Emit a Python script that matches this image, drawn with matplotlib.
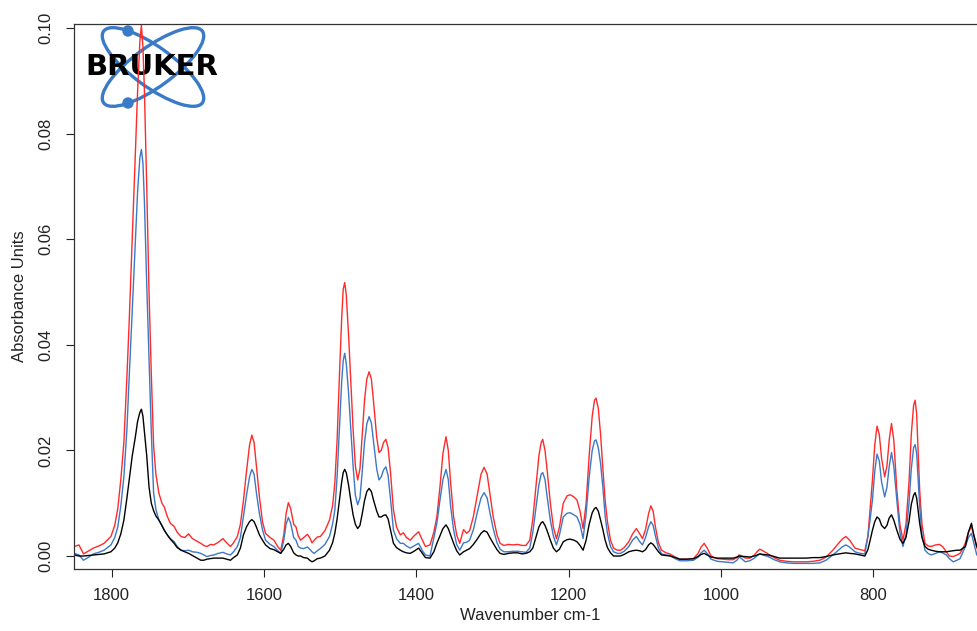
import matplotlib
matplotlib.use("Agg")
import matplotlib.pyplot as plt
from matplotlib.patches import Ellipse, Circle

plt.rcParams['font.family'] = ['Liberation Sans', 'DejaVu Sans']

# wavenumber (cm-1) and absorbance of the three spectra
wavenumber = [
    1849, 1843, 1837, 1830, 1824, 1817, 1810, 1801, 1796, 1792, 1788, 1784, 1780, 1777,
    1773, 1769, 1766, 1763, 1761, 1759, 1757, 1754, 1751, 1748, 1745, 1742, 1738, 1734,
    1731, 1727, 1723, 1718, 1714, 1709, 1704, 1699, 1694, 1688, 1683, 1679, 1675, 1670,
    1666, 1660, 1654, 1649, 1644, 1640, 1635, 1631, 1627, 1623, 1619, 1616, 1613, 1610,
    1606, 1602, 1598, 1592, 1587, 1582, 1578, 1574, 1571, 1568, 1565, 1561, 1558, 1555,
    1552, 1548, 1543, 1540, 1537, 1534, 1530, 1526, 1520, 1514, 1510, 1507, 1504, 1501,
    1498, 1496, 1494, 1492, 1489, 1486, 1483, 1480, 1477, 1474, 1471, 1468, 1465, 1462,
    1459, 1456, 1452, 1449, 1446, 1443, 1440, 1437, 1434, 1430, 1426, 1421, 1417, 1413,
    1408, 1403, 1397, 1392, 1388, 1382, 1377, 1373, 1369, 1365, 1361, 1358, 1355, 1351,
    1347, 1343, 1338, 1334, 1330, 1325, 1320, 1315, 1311, 1307, 1303, 1299, 1294, 1290,
    1285, 1279, 1273, 1267, 1261, 1256, 1251, 1247, 1243, 1239, 1236, 1234, 1231, 1228,
    1224, 1220, 1216, 1212, 1207, 1202, 1198, 1193, 1189, 1185, 1181, 1177, 1173, 1169,
    1166, 1164, 1161, 1158, 1155, 1152, 1149, 1145, 1141, 1136, 1132, 1127, 1121, 1116,
    1111, 1107, 1103, 1099, 1095, 1092, 1089, 1086, 1082, 1078, 1072, 1067, 1060, 1054,
    1045, 1036, 1030, 1026, 1022, 1018, 1013, 1005, 997, 990, 984, 979, 976, 972,
    968, 962, 956, 952, 949, 945, 938, 930, 923, 914, 905, 896, 888, 879,
    870, 862, 853, 845, 840, 836, 831, 824, 817, 811, 807, 804, 801, 798,
    795, 792, 789, 785, 782, 779, 776, 773, 769, 765, 761, 757, 753, 750,
    747, 745, 743, 739, 736, 732, 728, 724, 718, 713, 709, 704, 700, 695,
    690, 686, 682, 679, 675, 671, 668, 664, 660, 652,
]

red = [
    0.0018, 0.0021, 0.0004, 0.0010, 0.0015, 0.0019, 0.0024, 0.0037, 0.0058, 0.0090, 0.0145, 0.0215, 0.0340, 0.0445,
    0.0600, 0.0760, 0.0880, 0.0975, 0.1005, 0.0965, 0.0880, 0.0700, 0.0500, 0.0345, 0.0210, 0.0155, 0.0119, 0.0100,
    0.0093, 0.0075, 0.0062, 0.0056, 0.0045, 0.0037, 0.0035, 0.0042, 0.0033, 0.0028, 0.0024, 0.0020, 0.0018, 0.0022,
    0.0021, 0.0026, 0.0033, 0.0025, 0.0018, 0.0025, 0.0037, 0.0060, 0.0105, 0.0160, 0.0210, 0.0229, 0.0215, 0.0170,
    0.0112, 0.0065, 0.0043, 0.0035, 0.0030, 0.0018, 0.0011, 0.0040, 0.0080, 0.0101, 0.0090, 0.0060, 0.0055, 0.0038,
    0.0030, 0.0035, 0.0041, 0.0035, 0.0025, 0.0030, 0.0036, 0.0037, 0.0048, 0.0068, 0.0095, 0.0138, 0.0220, 0.0340,
    0.0450, 0.0505, 0.0518, 0.0495, 0.0420, 0.0330, 0.0240, 0.0170, 0.0144, 0.0165, 0.0230, 0.0295, 0.0335, 0.0349,
    0.0335, 0.0290, 0.0225, 0.0196, 0.0200, 0.0215, 0.0221, 0.0205, 0.0160, 0.0087, 0.0055, 0.0040, 0.0044, 0.0035,
    0.0030, 0.0038, 0.0046, 0.0030, 0.0018, 0.0021, 0.0045, 0.0074, 0.0130, 0.0195, 0.0226, 0.0200, 0.0140, 0.0074,
    0.0040, 0.0024, 0.0050, 0.0043, 0.0048, 0.0075, 0.0115, 0.0155, 0.0168, 0.0155, 0.0115, 0.0074, 0.0040, 0.0024,
    0.0020, 0.0022, 0.0021, 0.0022, 0.0020, 0.0020, 0.0030, 0.0070, 0.0130, 0.0190, 0.0215, 0.0221, 0.0200, 0.0160,
    0.0100, 0.0055, 0.0033, 0.0055, 0.0100, 0.0114, 0.0116, 0.0112, 0.0106, 0.0085, 0.0052, 0.0100, 0.0190, 0.0265,
    0.0295, 0.0299, 0.0280, 0.0230, 0.0165, 0.0105, 0.0065, 0.0030, 0.0015, 0.0011, 0.0011, 0.0016, 0.0027, 0.0042,
    0.0052, 0.0043, 0.0033, 0.0050, 0.0080, 0.0095, 0.0085, 0.0055, 0.0025, 0.0011, 0.0006, 0.0004, -0.0002, -0.0006,
    -0.0006, -0.0005, 0.0005, 0.0017, 0.0024, 0.0015, 0.0000, -0.0005, -0.0006, -0.0007, -0.0007, -0.0003, 0.0002, 0.0000,
    -0.0004, -0.0004, 0.0002, 0.0009, 0.0013, 0.0010, 0.0004, -0.0003, -0.0008, -0.0010, -0.0011, -0.0011, -0.0011, -0.0010,
    -0.0008, -0.0002, 0.0011, 0.0025, 0.0033, 0.0037, 0.0030, 0.0015, 0.0012, 0.0010, 0.0037, 0.0090, 0.0144, 0.0210,
    0.0246, 0.0230, 0.0185, 0.0150, 0.0170, 0.0220, 0.0251, 0.0220, 0.0125, 0.0060, 0.0030, 0.0060, 0.0140, 0.0230,
    0.0285, 0.0295, 0.0270, 0.0125, 0.0060, 0.0024, 0.0019, 0.0018, 0.0021, 0.0022, 0.0018, 0.0008, 0.0000, -0.0001,
    0.0002, 0.0005, 0.0015, 0.0025, 0.0045, 0.0056, 0.0040, 0.0015, 0.0010, 0.0010,
]

blue = [
    0.0005, 0.0002, -0.0008, -0.0002, 0.0004, 0.0007, 0.0011, 0.0021, 0.0035, 0.0055, 0.0095, 0.0150, 0.0240, 0.0340,
    0.0465, 0.0595, 0.0690, 0.0755, 0.0770, 0.0745, 0.0670, 0.0515, 0.0375, 0.0235, 0.0120, 0.0088, 0.0068, 0.0058,
    0.0049, 0.0040, 0.0033, 0.0027, 0.0018, 0.0011, 0.0010, 0.0011, 0.0008, 0.0007, 0.0005, 0.0002, -0.0001, 0.0001,
    0.0002, 0.0005, 0.0007, 0.0004, 0.0002, 0.0008, 0.0018, 0.0035, 0.0075, 0.0115, 0.0150, 0.0164, 0.0155, 0.0120,
    0.0080, 0.0050, 0.0030, 0.0022, 0.0018, 0.0010, 0.0005, 0.0030, 0.0060, 0.0073, 0.0062, 0.0035, 0.0030, 0.0018,
    0.0015, 0.0014, 0.0017, 0.0013, 0.0008, 0.0005, 0.0010, 0.0014, 0.0022, 0.0037, 0.0060, 0.0087, 0.0150, 0.0240,
    0.0330, 0.0370, 0.0384, 0.0365, 0.0310, 0.0240, 0.0170, 0.0115, 0.0097, 0.0110, 0.0160, 0.0215, 0.0250, 0.0264,
    0.0252, 0.0215, 0.0165, 0.0144, 0.0150, 0.0163, 0.0169, 0.0152, 0.0110, 0.0049, 0.0033, 0.0024, 0.0024, 0.0019,
    0.0015, 0.0019, 0.0024, 0.0010, 0.0002, 0.0000, 0.0035, 0.0062, 0.0105, 0.0145, 0.0164, 0.0145, 0.0095, 0.0049,
    0.0022, 0.0011, 0.0025, 0.0026, 0.0030, 0.0050, 0.0082, 0.0110, 0.0120, 0.0110, 0.0080, 0.0052, 0.0025, 0.0013,
    0.0008, 0.0008, 0.0009, 0.0009, 0.0008, 0.0007, 0.0015, 0.0045, 0.0090, 0.0135, 0.0155, 0.0158, 0.0145, 0.0110,
    0.0068, 0.0038, 0.0021, 0.0040, 0.0074, 0.0081, 0.0082, 0.0078, 0.0074, 0.0060, 0.0033, 0.0080, 0.0150, 0.0200,
    0.0218, 0.0220, 0.0205, 0.0175, 0.0130, 0.0075, 0.0043, 0.0018, 0.0008, 0.0005, 0.0005, 0.0009, 0.0018, 0.0030,
    0.0037, 0.0028, 0.0021, 0.0035, 0.0055, 0.0065, 0.0058, 0.0038, 0.0015, 0.0004, 0.0002, 0.0001, -0.0005, -0.0009,
    -0.0009, -0.0008, -0.0002, 0.0006, 0.0011, 0.0005, -0.0006, -0.0010, -0.0011, -0.0012, -0.0013, -0.0008, -0.0002, -0.0006,
    -0.0011, -0.0009, -0.0004, 0.0001, 0.0004, 0.0002, -0.0001, -0.0007, -0.0011, -0.0013, -0.0014, -0.0014, -0.0014, -0.0014,
    -0.0013, -0.0008, 0.0002, 0.0012, 0.0018, 0.0021, 0.0017, 0.0008, 0.0005, 0.0004, 0.0037, 0.0070, 0.0106, 0.0160,
    0.0193, 0.0180, 0.0140, 0.0112, 0.0130, 0.0170, 0.0196, 0.0170, 0.0106, 0.0045, 0.0018, 0.0040, 0.0100, 0.0165,
    0.0205, 0.0211, 0.0195, 0.0095, 0.0040, 0.0011, 0.0005, 0.0002, 0.0005, 0.0008, 0.0006, 0.0002, -0.0005, -0.0011,
    -0.0008, -0.0005, 0.0008, 0.0018, 0.0035, 0.0043, 0.0025, 0.0002, -0.0002, -0.0002,
]

black = [
    0.0002, 0.0000, 0.0000, 0.0001, 0.0002, 0.0003, 0.0004, 0.0008, 0.0015, 0.0025, 0.0042, 0.0068, 0.0110, 0.0144,
    0.0190, 0.0225, 0.0255, 0.0272, 0.0278, 0.0265, 0.0235, 0.0190, 0.0131, 0.0100, 0.0086, 0.0076, 0.0068, 0.0057,
    0.0049, 0.0040, 0.0032, 0.0024, 0.0016, 0.0011, 0.0008, 0.0005, 0.0001, -0.0004, -0.0008, -0.0008, -0.0006, -0.0005,
    -0.0004, -0.0004, -0.0004, -0.0006, -0.0008, -0.0003, 0.0002, 0.0015, 0.0040, 0.0055, 0.0065, 0.0069, 0.0065, 0.0055,
    0.0040, 0.0030, 0.0021, 0.0014, 0.0012, 0.0008, 0.0005, 0.0013, 0.0021, 0.0024, 0.0018, 0.0006, 0.0002, 0.0000,
    0.0000, -0.0003, -0.0004, -0.0008, -0.0011, -0.0009, -0.0005, -0.0004, 0.0000, 0.0011, 0.0025, 0.0043, 0.0070, 0.0105,
    0.0140, 0.0158, 0.0164, 0.0158, 0.0135, 0.0105, 0.0078, 0.0060, 0.0052, 0.0058, 0.0080, 0.0105, 0.0122, 0.0128,
    0.0122, 0.0105, 0.0085, 0.0074, 0.0074, 0.0077, 0.0078, 0.0070, 0.0050, 0.0024, 0.0016, 0.0011, 0.0008, 0.0006,
    0.0005, 0.0009, 0.0015, 0.0005, -0.0003, -0.0004, 0.0008, 0.0024, 0.0038, 0.0052, 0.0059, 0.0052, 0.0040, 0.0024,
    0.0010, 0.0002, 0.0008, 0.0011, 0.0014, 0.0022, 0.0032, 0.0043, 0.0048, 0.0045, 0.0034, 0.0024, 0.0012, 0.0005,
    0.0003, 0.0005, 0.0006, 0.0006, 0.0004, 0.0005, 0.0008, 0.0015, 0.0035, 0.0055, 0.0063, 0.0065, 0.0058, 0.0047,
    0.0030, 0.0015, 0.0008, 0.0013, 0.0027, 0.0031, 0.0032, 0.0030, 0.0027, 0.0020, 0.0011, 0.0030, 0.0060, 0.0082,
    0.0090, 0.0092, 0.0085, 0.0068, 0.0050, 0.0030, 0.0016, 0.0006, 0.0000, 0.0000, 0.0000, 0.0003, 0.0008, 0.0010,
    0.0011, 0.0010, 0.0008, 0.0012, 0.0021, 0.0025, 0.0022, 0.0016, 0.0008, 0.0002, 0.0001, 0.0000, -0.0003, -0.0006,
    -0.0006, -0.0005, -0.0001, 0.0003, 0.0005, 0.0002, -0.0002, -0.0004, -0.0004, -0.0004, -0.0004, -0.0002, 0.0000, -0.0001,
    -0.0001, -0.0002, 0.0000, 0.0002, 0.0004, 0.0003, 0.0002, -0.0001, -0.0004, -0.0004, -0.0004, -0.0004, -0.0004, -0.0003,
    -0.0003, -0.0001, 0.0002, 0.0004, 0.0005, 0.0006, 0.0005, 0.0004, 0.0002, 0.0000, 0.0012, 0.0030, 0.0049, 0.0065,
    0.0074, 0.0070, 0.0058, 0.0052, 0.0058, 0.0072, 0.0078, 0.0068, 0.0049, 0.0032, 0.0024, 0.0035, 0.0065, 0.0098,
    0.0115, 0.0120, 0.0110, 0.0062, 0.0035, 0.0018, 0.0013, 0.0011, 0.0009, 0.0008, 0.0008, 0.0008, 0.0009, 0.0010,
    0.0011, 0.0011, 0.0015, 0.0018, 0.0045, 0.0062, 0.0040, 0.0018, 0.0010, 0.0008,
]

yticks = [0.00, 0.02, 0.04, 0.06, 0.08, 0.10]
xticks = [1800, 1600, 1400, 1200, 1000, 800]

W, H = 977, 631
fig = plt.figure(figsize=(W / 100, H / 100), dpi=100)
# plot region: left 74px, right 986px (cut off by the image edge), top 24px, bottom 569px
ax = fig.add_axes([74 / W, (H - 569) / H, 912 / W, 545 / H])

ax.plot(wavenumber, red, color='#ff2a2a', lw=1.0)
ax.plot(wavenumber, blue, color='#3b78c6', lw=1.0)
ax.plot(wavenumber, black, color='black', lw=1.0)

ax.set_xlim(1849.5, 651.9)
ax.set_ylim(-0.00246, 0.10076)
ax.set_xticks(xticks)
ax.set_yticks(yticks)
ax.set_yticklabels(['%.2f' % v for v in yticks], rotation=90, va='center')
ax.tick_params(direction='out', length=6, width=0.8, labelsize=12, colors='#222222')
ax.tick_params(axis='x', pad=8)
ax.tick_params(axis='y', pad=9)
for side in ['left', 'top', 'bottom', 'right']:
    ax.spines[side].set_color('#333333')
    ax.spines[side].set_linewidth(0.9)

ax.set_xlabel('Wavenumber cm-1', fontsize=12, color='#222222', labelpad=3)
ax.set_ylabel('Absorbance Units', fontsize=12, color='#222222', labelpad=8)

# Bruker logo in the top-left corner (pixel positions converted to inches)
def px(x, y):
    return (x / 100, (H - y) / 100)

logo_blue = '#3a7bc8'
for ang in (36, -36):
    ax.add_patch(Ellipse(px(153, 67), 1.22, 0.40, angle=ang, fill=False,
                         ec=logo_blue, lw=2.4, transform=fig.dpi_scale_trans,
                         zorder=1, clip_on=False))
for cy in (31, 103):
    ax.add_patch(Circle(px(128, cy), 0.05, color=logo_blue,
                        transform=fig.dpi_scale_trans, zorder=1, clip_on=False))
ax.text(*px(152, 67), 'BRUKER', family='DejaVu Sans', fontweight='heavy',
        fontsize=21, color='black', ha='center', va='center',
        transform=fig.dpi_scale_trans, zorder=1)

fig.savefig('out.png', dpi=100)
